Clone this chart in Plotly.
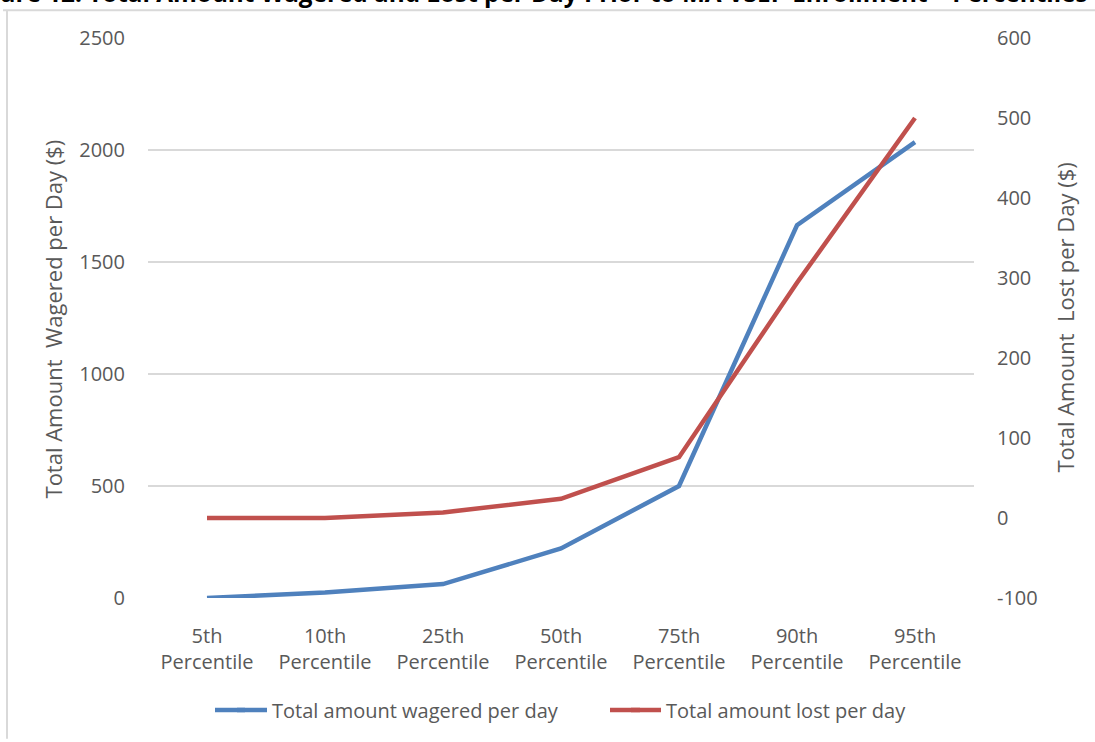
import plotly.graph_objects as go

categories = ["5th<br>Percentile", "10th<br>Percentile", "25th<br>Percentile", "50th<br>Percentile",
              "75th<br>Percentile", "90th<br>Percentile", "95th<br>Percentile"]
wagered = [0, 25, 62, 221, 500, 1664, 2035]
lost = [0, 0, 7, 24, 76, 294, 500]

left_ticks = [0, 500, 1000, 1500, 2000, 2500]
right_ticks = [-100, 0, 100, 200, 300, 400, 500, 600]
right_labels = [str(v) for v in right_ticks]

BLUE, RED = "#4F81BD", "#C0504D"

W, H = 1095, 742
L, R, T, B = 148, 121, 38, 139
pw, ph = W - L - R, H - T - B


def px_x(x):
    return (x - L) / pw


def px_y(y):
    return (H - B - y) / ph


FONT = "'Open Sans', sans-serif"
GREY = "#595959"
LEG_Y = 716

fig = go.Figure()
fig.add_trace(go.Scatter(x=categories, y=wagered, mode="lines", name="Total amount wagered per day",
                         line=dict(color=BLUE, width=4.5), yaxis="y", legend="legend"))
fig.add_trace(go.Scatter(x=categories, y=lost, mode="lines", name="Total amount lost per day",
                         line=dict(color=RED, width=4.5), yaxis="y2", legend="legend2"))

fig.update_layout(
    width=W, height=H,
    margin=dict(l=L, r=R, t=T, b=B, pad=0),
    paper_bgcolor="white", plot_bgcolor="white",
    font=dict(family=FONT, size=20, color=GREY),
    showlegend=True,
    legend=dict(orientation="h", x=px_x(232), xanchor="left", y=px_y(LEG_Y), yanchor="middle",
                font=dict(size=20, color=GREY), bgcolor="rgba(0,0,0,0)"),
    legend2=dict(orientation="h", x=px_x(626), xanchor="left", y=px_y(LEG_Y), yanchor="middle",
                 font=dict(size=20, color=GREY), bgcolor="rgba(0,0,0,0)"),
    xaxis=dict(type="category", range=[-0.5, 6.5], showgrid=False, showline=False,
               ticks="outside", ticklen=20, tickcolor="rgba(0,0,0,0)",
               tickfont=dict(size=20, color=GREY)),
    yaxis=dict(range=[0, 2500], tickvals=left_ticks, showgrid=True, gridcolor="#D9D9D9",
               gridwidth=1.5, zeroline=False, showline=False, ticks="outside", ticklen=18,
               tickcolor="rgba(0,0,0,0)", tickfont=dict(size=20, color=GREY)),
    yaxis2=dict(range=[-100, 600], tickvals=right_ticks, ticktext=right_labels, overlaying="y",
                side="right", showgrid=False, zeroline=False, showline=False, ticks="outside",
                ticklen=18, tickcolor="rgba(0,0,0,0)", tickfont=dict(size=20, color=GREY)),
    shapes=[
        dict(type="line", xref="paper", yref="paper", x0=px_x(7), x1=px_x(7), y0=px_y(10), y1=px_y(745),
             line=dict(color="#D9D9D9", width=2)),
        dict(type="line", xref="paper", yref="paper", x0=px_x(3), x1=px_x(1100), y0=px_y(10), y1=px_y(10),
             line=dict(color="#D9D9D9", width=2)),
        # extend legend line samples to Excel-like length
        dict(type="line", xref="paper", yref="paper", x0=px_x(215), x1=px_x(245), y0=px_y(LEG_Y), y1=px_y(LEG_Y),
             line=dict(color=BLUE, width=4.5)),
        dict(type="line", xref="paper", yref="paper", x0=px_x(610), x1=px_x(640), y0=px_y(LEG_Y), y1=px_y(LEG_Y),
             line=dict(color=RED, width=4.5)),
    ],
    annotations=[
        dict(text="<b>Figure 12: Total Amount Wagered and Lost per Day Prior to MA VSEP Enrollment – Percentiles</b>",
             xref="paper", yref="paper", x=px_x(1090), y=px_y(11), xanchor="right", yanchor="bottom",
             showarrow=False, font=dict(size=24.3, color="#000000", family=FONT)),
        dict(text="Total Amount  Wagered per Day ($)", textangle=-90,
             xref="paper", yref="paper", x=px_x(53), y=px_y(322), xanchor="center", yanchor="middle",
             showarrow=False, font=dict(size=22, color=GREY)),
        dict(text="Total Amount  Lost per Day ($)", textangle=-90,
             xref="paper", yref="paper", x=px_x(1065), y=px_y(320), xanchor="center", yanchor="middle",
             showarrow=False, font=dict(size=22, color=GREY)),
    ],
)

fig.write_html("out.html", config={"displayModeBar": False},
               post_script="document.body.style.margin='0';document.body.style.overflow='hidden';")
